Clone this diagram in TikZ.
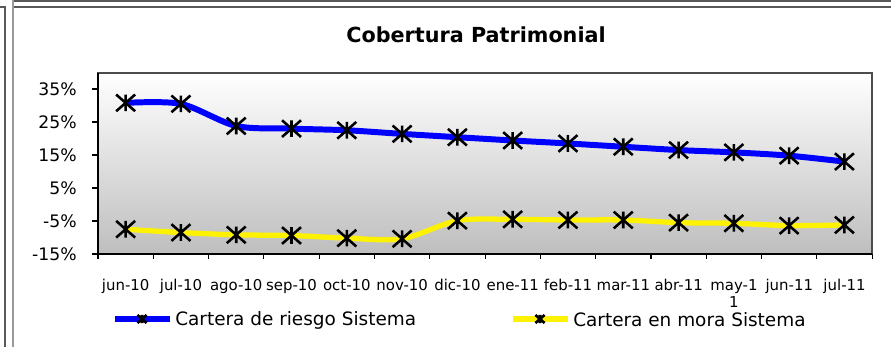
\documentclass[tikz,border=0pt]{standalone}
\usepackage{fontspec}
\setmainfont{DejaVu Sans}

\definecolor{plotbot}{RGB}{190,190,190}

% asterisk-like marker of the chart
\pgfdeclareplotmark{estrella}{%
	\pgfpathmoveto{\pgfqpoint{-\pgfplotmarksize}{-0.88\pgfplotmarksize}}%
	\pgfpathlineto{\pgfqpoint{\pgfplotmarksize}{0.88\pgfplotmarksize}}%
	\pgfpathmoveto{\pgfqpoint{-\pgfplotmarksize}{0.88\pgfplotmarksize}}%
	\pgfpathlineto{\pgfqpoint{\pgfplotmarksize}{-0.88\pgfplotmarksize}}%
	\pgfpathmoveto{\pgfqpoint{0pt}{-0.88\pgfplotmarksize}}%
	\pgfpathlineto{\pgfqpoint{0pt}{0.88\pgfplotmarksize}}%
	\pgfusepathqstroke}

\begin{document}
\begin{tikzpicture}
		[x=0.02cm, y=-0.02cm,
		 frame/.style= {draw=black!65, line width=0.6pt},
		 eje/.style= {draw=black, line width=0.6pt},
		 ylab/.style= {anchor=east, inner sep=0pt, font=\fontsize{9.8}{11}\selectfont},
		 xlab/.style= {anchor=north, align=center, inner sep=0pt, font=\fontsize{8.5}{9.6}\selectfont},
		 riesgo/.style= {draw=blue, line width=3.4pt, line join=round},
		 mora/.style= {draw=yellow, line width=3pt, line join=round},
		 marca/.style= {mark=estrella, mark size=5.4pt, mark options={draw=black, line width=1.45pt}},
		 marcaley/.style= {mark=estrella, mark size=2.6pt, mark options={draw=black, line width=1.5pt}},
		 legtext/.style= {anchor=west, inner xsep=2.8pt, inner ysep=0pt, font=\fontsize{10.5}{12}\selectfont}]
		
		\useasboundingbox (0,0) rectangle (891,347);
		
		% cell borders
		\draw[frame] (13,1) -- (891,1);
		\draw[frame] (13,7) -- (891,7);
		\draw[frame] (0,7) -- (5,7) -- (5,347);
		\draw[draw=black!40, line width=1.1pt] (12.7,0) -- (12.7,347);
		
		\node[anchor=base, font=\fontsize{11.8}{14}\selectfont\bfseries] (titulo) at (476,43) {Cobertura Patrimonial};
		
		% plot area
		\shade[top color=white, bottom color=plotbot] (98,73) rectangle (872,254);
		\draw[draw=black!70, line width=0.6pt] (98,73) rectangle (872,254);
		\draw[eje] (98,73) -- (98,254) -- (872,254);
		
		\foreach \v [count=\j] in {-15,-5,...,35}{
			\draw[eje] (92,204.5-3.3*\v) -- (98,204.5-3.3*\v);
			\node[ylab] (y\j) at (77,204.5-3.3*\v) {\v\%};
		}
		
		\foreach \k in {0,...,14}
			\draw[eje] (98+55.3*\k,254) -- (98+55.3*\k,259);
		
		\foreach \m [count=\i from 0] in {jun-10,jul-10,ago-10,sep-10,oct-10,nov-10,dic-10,ene-11,feb-11,mar-11,abr-11,{may-1\\1},jun-11,jul-11}
			\node[xlab] (m\i) at (98+55.3*\i+27.65,279) {\m};
		
		% series, in category / percent units
		\begin{scope}[shift={(98,204.5)}, x=1.106cm, y=0.066cm]
			\draw[riesgo] plot[smooth, tension=0.5, marca] coordinates {
				(0.5,30.8) (1.5,30.5) (2.5,23.8) (3.5,23.0) (4.5,22.5) (5.5,21.4) (6.5,20.4)
				(7.5,19.4) (8.5,18.5) (9.5,17.5) (10.5,16.5) (11.5,15.8) (12.5,14.8) (13.5,13.0)};
			\draw[mora] plot[smooth, tension=0.5, marca] coordinates {
				(0.5,-7.5) (1.5,-8.5) (2.5,-9.2) (3.5,-9.4) (4.5,-10.2) (5.5,-10.4) (6.5,-4.9)
				(7.5,-4.5) (8.5,-4.7) (9.5,-4.7) (10.5,-5.5) (11.5,-5.7) (12.5,-6.4) (13.5,-6.2)};
		\end{scope}
		
		% legend
		\node[legtext] (leyriesgo) at (170,320) {Cartera de riesgo Sistema};
		\coordinate (lr) at (115,319);
		\draw[riesgo, line width=3pt] (lr) -- (lr -| leyriesgo.west);
		\draw plot[only marks, marcaley] coordinates {(142,319)};
		
		\node[legtext] (leymora) at (568,320) {Cartera en mora Sistema};
		\coordinate (lm) at (513,319);
		\draw[mora] (lm) -- (lm -| leymora.west);
		\draw plot[only marks, marcaley] coordinates {(540,319)};
		
	\end{tikzpicture}
\end{document}
